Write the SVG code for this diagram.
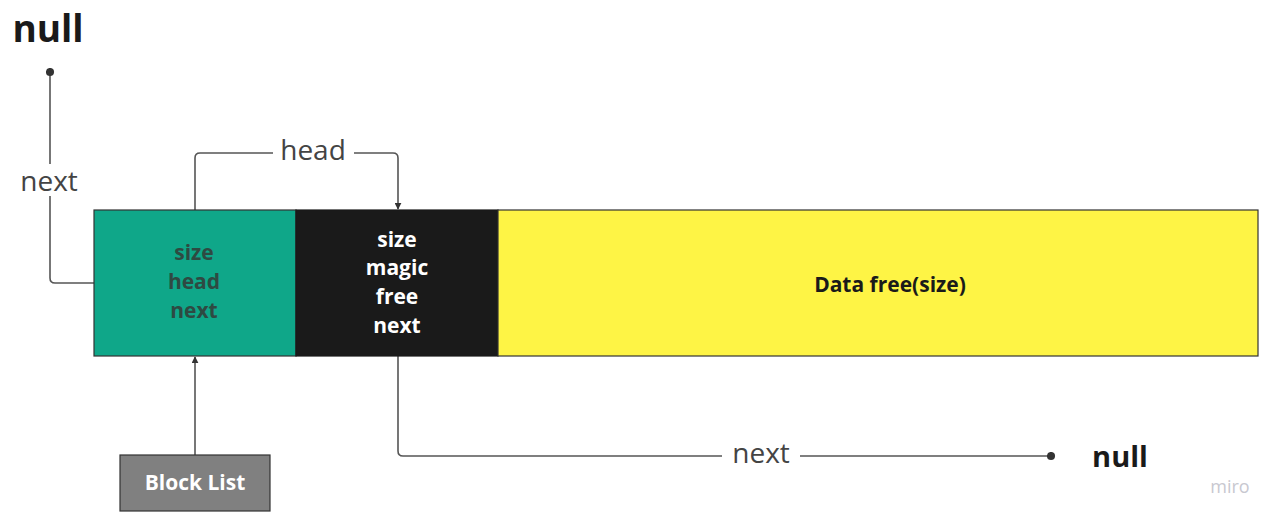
<svg xmlns="http://www.w3.org/2000/svg" width="1280" height="521" viewBox="0 0 1280 521">
<style>
text{font-family:"Open Sans","Noto Sans","Liberation Sans",sans-serif;text-anchor:middle;dominant-baseline:central}
.b{font-weight:bold}
.conn{fill:none;stroke:#555;stroke-width:1.6}
.lbl{font-size:28px;fill:#444}
.cell{font-size:21px;font-weight:bold}
</style>
<defs>
<marker id="arr" viewBox="0 0 10 10" refX="9" refY="5" markerWidth="7" markerHeight="7" orient="auto-start-reverse" markerUnits="userSpaceOnUse"><path d="M0,0 L10,5 L0,10 z" fill="#333"/></marker>
<marker id="dot" viewBox="0 0 10 10" refX="5" refY="5" markerWidth="9" markerHeight="9" markerUnits="userSpaceOnUse"><circle cx="5" cy="5" r="4.5" fill="#333"/></marker>
</defs>
<rect width="1280" height="521" fill="#fff"/>
<g id="connectors">
<path class="conn" d="M94,283 H55 Q50,283 50,278 V72" marker-end="url(#dot)"/>
<path class="conn" d="M195,210 V158 Q195,153 200,153 H393 Q398,153 398,158 V209" marker-end="url(#arr)"/>
<path class="conn" d="M195,455 V357" marker-end="url(#arr)"/>
<path class="conn" d="M398,356 V451 Q398,456 403,456 H1051" marker-end="url(#dot)"/>
<rect x="273" y="134" width="81" height="32" fill="#fff"/>
<text class="lbl" x="313" y="149">head</text>
<rect x="14" y="164" width="72" height="32" fill="#fff"/>
<text class="lbl" x="49" y="180">next</text>
<rect x="722" y="438" width="78" height="32" fill="#fff"/>
<text class="lbl" x="761" y="452">next</text>
</g>
<g id="null-top"><text class="b" x="48" y="27" font-size="37" fill="#1a1a1a">null</text></g>
<g id="header-cell">
<rect x="94" y="210" width="202" height="146" fill="#0fa789" stroke="#333" stroke-width="1.2"/>
<text class="cell" x="194" y="252" fill="#2e4a42">size</text>
<text class="cell" x="194" y="281" fill="#2e4a42">head</text>
<text class="cell" x="194" y="310" fill="#2e4a42">next</text>
</g>
<g id="block-cell">
<rect x="296" y="210" width="202" height="146" fill="#1a1a1a" stroke="#1a1a1a" stroke-width="1.2"/>
<text class="cell" x="397" y="239" fill="#fff">size</text>
<text class="cell" x="397" y="267" fill="#fff">magic</text>
<text class="cell" x="397" y="296" fill="#fff">free</text>
<text class="cell" x="397" y="325" fill="#fff">next</text>
</g>
<g id="data-cell">
<rect x="498" y="210" width="760" height="146" fill="#fef445" stroke="#333" stroke-width="1.2"/>
<text class="b" x="890" y="284" font-size="21" fill="#1a1a1a">Data free(size)</text>
</g>
<g id="block-list">
<rect x="120" y="455" width="150" height="56" fill="#808080" stroke="#333" stroke-width="1.2"/>
<text class="b" x="195" y="482" font-size="21" fill="#fff">Block List</text>
</g>
<g id="null-bottom"><text class="b" x="1120" y="455" font-size="29" fill="#1a1a1a">null</text></g>
<text x="1230" y="486" font-size="18" fill="#c8c8d0">miro</text>
</svg>
